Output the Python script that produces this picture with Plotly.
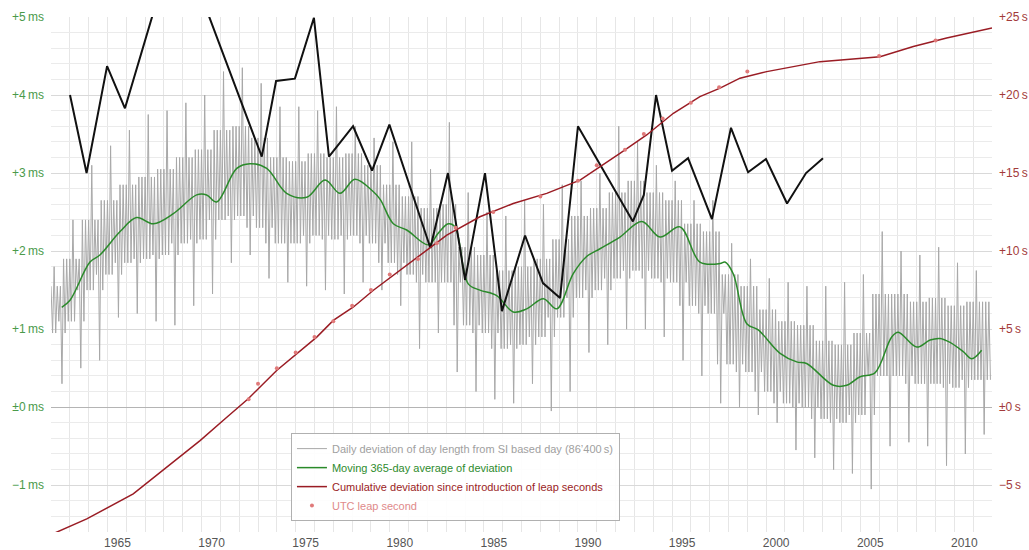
import plotly.graph_objects as go

# ---------------- data ----------------
# Daily deviation of day length (ms), read per calendar year 1962..2011:
# highest spikes, upper edge of dense band, lower edge of dense band, lowest spikes
daily_first_year = 1962
daily_hi = [1.80, 2.40, 3.10, 3.35, 3.55, 3.75, 3.80, 3.90, 4.00, 4.30,
            4.35, 4.15, 3.85, 3.85, 3.80, 3.85, 3.60, 3.45, 3.40, 3.40,
            3.05, 3.65, 2.75, 2.50, 2.45, 2.65, 2.60, 2.85, 2.90, 3.00,
            3.60, 3.40, 3.10, 2.90, 2.65, 2.65, 2.10, 1.90, 1.65, 1.60,
            1.55, 1.55, 1.60, 1.70, 2.25, 2.00, 1.95, 2.05, 1.85, 1.75]
daily_core_hi = [1.55, 1.90, 2.40, 2.65, 2.85, 2.95, 3.05, 3.20, 3.30, 3.55,
                 3.60, 3.45, 3.20, 3.15, 3.25, 3.20, 3.25, 3.10, 2.85, 2.70,
                 2.55, 2.60, 2.05, 1.95, 1.75, 1.80, 1.90, 2.15, 2.45, 2.55,
                 2.75, 2.90, 2.75, 2.65, 2.35, 2.25, 1.70, 1.55, 1.25, 1.10,
                 1.05, 0.85, 0.80, 0.95, 1.45, 1.45, 1.35, 1.40, 1.30, 1.35]
daily_core_lo = [0.95, 1.10, 1.50, 1.70, 1.85, 1.90, 1.95, 2.10, 2.15, 2.40,
                 2.45, 2.30, 2.10, 2.10, 2.20, 2.15, 2.20, 2.10, 1.85, 1.70,
                 1.60, 1.60, 1.05, 0.95, 0.75, 0.80, 0.90, 1.15, 1.40, 1.50,
                 1.65, 1.75, 1.65, 1.60, 1.30, 1.20, 0.55, 0.45, 0.20, 0.05,
                 0.00, -0.15, -0.20, -0.10, 0.40, 0.40, 0.30, 0.30, 0.25, 0.35]
daily_lo = [0.30, 0.50, 0.60, 1.15, 1.20, 1.10, 1.05, 1.30, 1.45, 1.85,
            1.95, 1.65, 1.60, 1.55, 1.50, 1.45, 1.60, 1.50, 1.30, 0.75,
            0.95, 0.45, 0.20, 0.10, 0.05, 0.30, -0.05, 0.20, 0.70, 0.80,
            1.00, 1.00, 0.90, 0.60, 0.40, 0.05, 0.00, -0.10, -0.20, -0.55,
            -0.65, -0.80, -0.85, -1.05, -0.50, -0.45, -0.50, -0.75, -0.60, -0.35]

# Moving 365-day average (ms)
avg_years = [1962.57, 1963.01, 1964.07, 1964.60, 1965.67, 1966.55, 1967.44, 1968.50,
             1969.74, 1970.27, 1970.80, 1971.87, 1972.57, 1973.46, 1974.52, 1975.59,
             1976.56, 1977.36, 1978.15, 1979.13, 1979.50, 1980.19, 1980.90, 1982.05,
             1982.58, 1983.11, 1983.47, 1984.17, 1984.79, 1985.68, 1986.56, 1987.28,
             1988.16, 1988.87, 1989.75, 1990.46, 1991.17, 1992.23, 1993.39, 1994.36,
             1995.42, 1996.48, 1997.55, 1997.81, 1998.25, 1998.97, 1999.58, 2000.74,
             2001.62, 2002.15, 2003.57, 2004.28, 2004.99, 2005.78, 2006.67, 2007.02,
             2008.00, 2008.71, 2009.24, 2009.77, 2010.48, 2010.92, 2011.45]
avg_ms = [1.28, 1.37, 1.86, 1.95, 2.25, 2.43, 2.35, 2.48,
          2.72, 2.72, 2.63, 3.06, 3.12, 3.06, 2.74, 2.69,
          2.91, 2.74, 2.92, 2.76, 2.66, 2.35, 2.27, 2.08,
          2.23, 2.35, 2.31, 1.58, 1.50, 1.43, 1.22, 1.26,
          1.39, 1.26, 1.71, 1.93, 2.03, 2.18, 2.38, 2.18,
          2.31, 1.86, 1.84, 1.86, 1.71, 1.07, 0.99, 0.69,
          0.58, 0.56, 0.28, 0.28, 0.39, 0.44, 0.90, 0.96,
          0.77, 0.86, 0.88, 0.83, 0.71, 0.62, 0.73]

# Cumulative deviation since introduction of leap seconds (s)
cum_years = [1962.0, 1963.90, 1966.37, 1968.15, 1969.92, 1971.25, 1972.48, 1973.99,
             1975.06, 1976.12, 1977.00, 1978.07, 1979.13, 1980.54, 1981.25, 1983.03,
             1984.79, 1986.56, 1988.34, 1990.11, 1992.23, 1993.65, 1995.07, 1996.48,
             1997.55, 1998.61, 2000.03, 2001.80, 2002.86, 2006.05, 2007.82, 2009.59,
             2012.0]
cum_s = [-8.17, -7.16, -5.56, -3.85, -2.14, -0.74, 0.54, 2.35,
         3.43, 4.49, 5.56, 6.42, 7.49, 8.77, 9.42, 11.02,
         12.20, 13.05, 13.70, 14.55, 16.26, 17.44, 18.83, 19.90,
         20.44, 21.08, 21.50, 21.93, 22.14, 22.46, 23.11, 23.65,
         24.29]

# UTC leap seconds (date, plotted value in s)
leap_years = [1972.5, 1973.0, 1974.0, 1975.0, 1976.0, 1977.0, 1978.0, 1979.0, 1980.0,
              1981.5, 1982.5, 1983.5, 1985.5, 1988.0, 1990.0, 1991.0, 1992.5, 1993.5,
              1994.5, 1996.0, 1997.5, 1999.0, 2006.0, 2009.0, 2012.5]
leap_s = [0.5, 1.5, 2.5, 3.5, 4.5, 5.5, 6.5, 7.5, 8.5,
          9.5, 10.5, 11.5, 12.5, 13.5, 14.5, 15.5, 16.5, 17.5,
          18.5, 19.5, 20.5, 21.5, 22.5, 23.5, 24.5]

# Black (unlabelled) yearly line (ms)
black_years = [1963.01, 1963.89, 1964.98, 1965.93, 1968.71, 1973.20, 1973.96, 1974.96,
               1975.97, 1976.77, 1978.05, 1979.06, 1979.98, 1982.16, 1983.09, 1984.00,
               1985.06, 1985.96, 1987.19, 1988.14, 1989.05, 1990.00, 1992.92, 1993.50,
               1994.15, 1995.00, 1995.85, 1997.12, 1998.13, 1999.04, 1999.99, 2001.11,
               2002.12, 2003.02]
black_ms = [4.00, 3.00, 4.37, 3.83, 6.09, 3.21, 4.18, 4.21,
            4.99, 3.21, 3.60, 3.03, 3.62, 2.04, 3.00, 1.63,
            3.00, 1.23, 2.20, 1.59, 1.40, 3.60, 2.38, 2.72,
            4.00, 3.03, 3.19, 2.41, 3.58, 3.01, 3.18, 2.61,
            3.00, 3.19]

# Axis ticks
xtick_years = [1965, 1970, 1975, 1980, 1985, 1990, 1995, 2000, 2005, 2010]
ytick_ms = [-1, 0, 1, 2, 3, 4, 5]
ytick_ms_text = ["\u22121\u2009ms", "\u00b10\u2009ms", "+1\u2009ms", "+2\u2009ms",
                 "+3\u2009ms", "+4\u2009ms", "+5\u2009ms"]
ytick_s = [-5, 0, 5, 10, 15, 20, 25]
ytick_s_text = ["\u22125\u2009s", "\u00b10\u2009s", "+5\u2009s", "+10\u2009s",
                "+15\u2009s", "+20\u2009s", "+25\u2009s"]

# ---------------- figure ----------------
# Within each year the daily values swing between the read band edges and spikes
# of that year (first part) and of the following year (later part).
daily_years, daily_vals = [], []
n_years = len(daily_hi)
for i in range(n_years):
    k = min(i + 1, n_years - 1)
    seq = [daily_core_hi[i], daily_core_lo[i], daily_hi[i], daily_core_lo[i],
           daily_core_hi[i], daily_core_lo[k], daily_core_hi[i], daily_lo[i],
           daily_core_hi[k], daily_core_lo[i], daily_core_hi[k], daily_core_lo[k]]
    for j, v in enumerate(seq):
        daily_years.append(daily_first_year + i + j / len(seq))
        daily_vals.append(v)

FONT = "Liberation Sans, Arial, sans-serif"
fig = go.Figure()

fig.add_trace(go.Scatter(
    x=daily_years, y=daily_vals, mode="lines",
    line=dict(color="#a8a8a8", width=1),
    name="<span style='color:#a0a0a0'>Daily deviation of day length from SI based day (86\u2019400\u2009s)</span>",
))
fig.add_trace(go.Scatter(
    x=avg_years, y=avg_ms, mode="lines", line_shape="spline",
    line=dict(color="#2a8a2a", width=1.5),
    name="<span style='color:#2e8b2e'>Moving 365-day average of deviation</span>",
))
fig.add_trace(go.Scatter(
    x=cum_years, y=cum_s, mode="lines", yaxis="y2",
    line=dict(color="#9a1c24", width=1.5),
    name="<span style='color:#9a1c24'>Cumulative deviation since introduction of leap seconds</span>",
))
fig.add_trace(go.Scatter(
    x=leap_years, y=leap_s, mode="markers", yaxis="y2", cliponaxis=False,
    marker=dict(color="#e07a7a", size=4),
    name="<span style='color:#e08a8a'>UTC leap second</span>",
))
fig.add_trace(go.Scatter(
    x=black_years, y=black_ms, mode="lines",
    line=dict(color="#111111", width=2), showlegend=False,
))

fig.update_layout(
    width=1029, height=550,
    margin=dict(l=51, r=37, t=17, b=18, autoexpand=False),
    paper_bgcolor="white", plot_bgcolor="white",
    font=dict(family=FONT, size=11, color="#555"),
    showlegend=True,
    legend=dict(
        x=0.255, y=0.192, xanchor="left", yanchor="top",
        bgcolor="rgba(255,255,255,0.9)", bordercolor="#b0b0b0", borderwidth=1,
        font=dict(family=FONT, size=11), tracegroupgap=0,
    ),
    xaxis=dict(
        range=[1962, 2012], tickmode="array", tickvals=xtick_years,
        ticktext=[str(v) for v in xtick_years], ticks="", showgrid=False,
        zeroline=False, showline=False, automargin=False,
        ticklabelshift=10, ticklabelstandoff=2,
        tickfont=dict(family="Liberation Sans Narrow, Liberation Sans, Arial", size=12, color="#555"),
        minor=dict(tickmode="linear", tick0=1962, dtick=1, showgrid=True,
                   gridcolor="#e6e6e6", gridwidth=1, ticks=""),
    ),
    yaxis=dict(
        range=[-1.6, 5], tickmode="array", tickvals=ytick_ms, ticktext=ytick_ms_text,
        ticks="", showgrid=True, gridcolor="#d9d9d9", gridwidth=1,
        zeroline=True, zerolinecolor="#b4b4b4", zerolinewidth=1.2,
        showline=False, automargin=False, ticklabelstandoff=6,
        tickfont=dict(family=FONT, size=12, color="#4a9a4a"),
        minor=dict(tickmode="linear", tick0=0, dtick=0.2, showgrid=True,
                   gridcolor="#ebebeb", gridwidth=1, ticks=""),
    ),
    yaxis2=dict(
        range=[-8, 25], overlaying="y", side="right", tickmode="array",
        tickvals=ytick_s, ticktext=ytick_s_text, ticks="", showgrid=False,
        zeroline=False, showline=False, automargin=False, ticklabelstandoff=6,
        tickfont=dict(family=FONT, size=12, color="#a33a3a"),
    ),
)

fig.write_html("out.html", config={"displayModeBar": False},
               post_script="document.body.style.margin='0px';")
